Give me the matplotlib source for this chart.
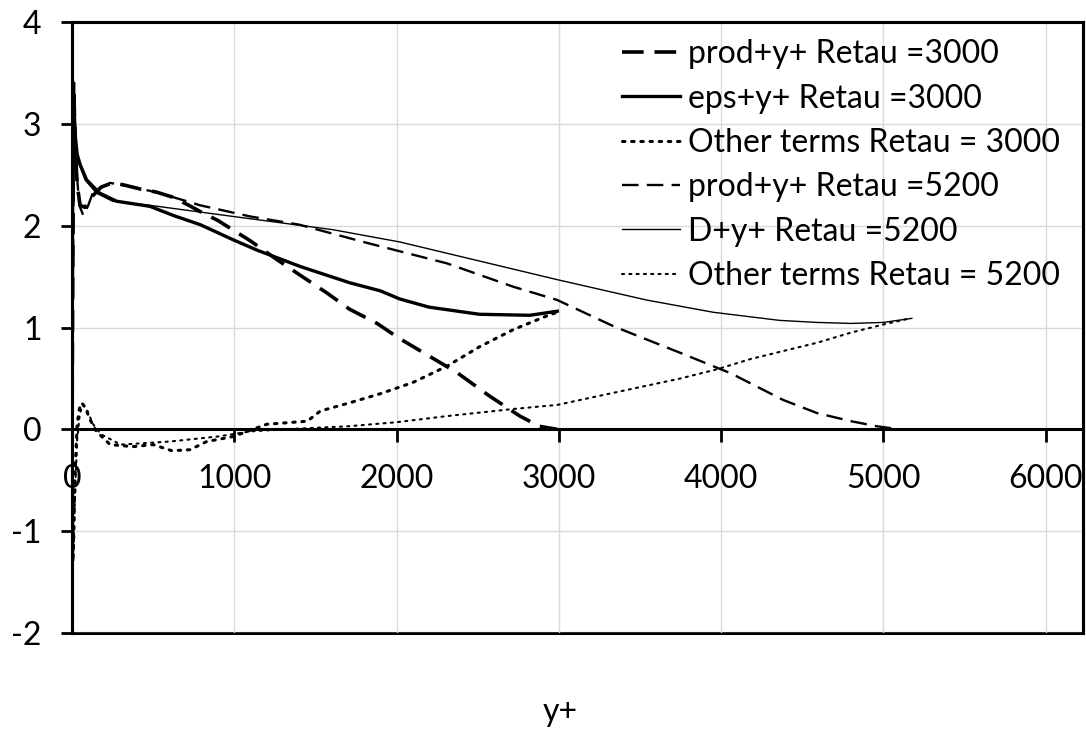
import numpy as np
import matplotlib.pyplot as plt

plt.rcParams['font.family'] = ['Lato', 'DejaVu Sans']
plt.rcParams['axes.unicode_minus'] = False

# Retau = 3000
yp_prod3 = [0, 5, 10, 15, 22, 32, 50, 80, 120, 180, 250, 320, 420, 520, 620, 720, 800,
            900, 990, 1100, 1260, 1400, 1570, 1710, 1880, 2010, 2200, 2370, 2570, 2760, 2880, 2990]
prod3 = [0, 1.6, 3.4, 3.1, 2.7, 2.4, 2.2, 2.18, 2.28, 2.38, 2.42, 2.4, 2.36, 2.33, 2.28, 2.2, 2.13,
         2.05, 1.96, 1.85, 1.67, 1.52, 1.34, 1.18, 1.04, 0.9, 0.72, 0.56, 0.33, 0.13, 0.03, 0.0]

yp_eps3 = [0, 3, 8, 14, 22, 32, 50, 90, 170, 275, 480, 625, 790, 995, 1140, 1405, 1710,
           1900, 2020, 2200, 2510, 2820, 2990]
eps3 = [0, 2.0, 3.35, 3.1, 2.85, 2.7, 2.6, 2.45, 2.32, 2.24, 2.19, 2.1, 2.01, 1.86, 1.76, 1.6, 1.44,
        1.36, 1.28, 1.2, 1.13, 1.12, 1.16]

yp_oth3 = [0, 3, 6, 10, 15, 22, 32, 45, 60, 80, 110, 150, 235, 375, 500, 615, 727, 830, 995,
           1200, 1450, 1530, 1710, 1900, 2100, 2310, 2510, 2720, 2920, 2990]
oth3 = [0, -0.6, -1.3, -1.1, -0.7, -0.3, 0.05, 0.2, 0.26, 0.22, 0.1, -0.02, -0.15, -0.17, -0.15,
        -0.21, -0.2, -0.12, -0.07, 0.05, 0.08, 0.18, 0.26, 0.35, 0.46, 0.62, 0.81, 0.98, 1.11, 1.15]

# Retau = 5200
yp_prod5 = [0, 6, 12, 20, 30, 45, 70, 100, 130, 235, 375, 540, 790, 1100, 1400, 1820, 2310,
            2720, 2990, 3340, 3750, 4060, 4380, 4590, 4800, 4960, 5100, 5200]
prod5 = [0, 1.5, 3.2, 2.9, 2.5, 2.2, 2.1, 2.2, 2.33, 2.42, 2.38, 2.32, 2.2, 2.09, 2.01, 1.83, 1.63,
         1.4, 1.27, 1.01, 0.75, 0.55, 0.29, 0.16, 0.08, 0.03, 0.0, 0.0]

yp_D5 = [0, 4, 10, 18, 28, 45, 80, 150, 250, 480, 995, 1610, 2020, 2990, 3540, 3950, 4360,
         4590, 4800, 5000, 5175]
D5 = [0, 2.2, 3.3, 3.0, 2.75, 2.6, 2.45, 2.32, 2.24, 2.2, 2.09, 1.96, 1.84, 1.47, 1.27, 1.15, 1.07,
      1.05, 1.04, 1.05, 1.09]

yp_oth5 = [0, 4, 8, 14, 22, 32, 48, 65, 90, 130, 180, 300, 600, 900, 1100, 1300, 1700, 2000,
           2310, 2720, 2990, 3340, 3750, 3975, 4180, 4590, 4800, 5000, 5165]
oth5 = [0, -0.5, -1.2, -0.9, -0.5, -0.1, 0.15, 0.24, 0.2, 0.05, -0.05, -0.15, -0.12, -0.07, -0.02,
        0.0, 0.03, 0.07, 0.13, 0.2, 0.24, 0.36, 0.5, 0.59, 0.69, 0.85, 0.95, 1.03, 1.09]

rect = [0.0663, 0.1376, 0.931, 0.8324]
fig = plt.figure(figsize=(10.86, 7.34), dpi=100)

# outer box (bottom edge at y = -2)
frame = fig.add_axes(rect, zorder=0)
frame.set_xticks([])
frame.set_yticks([])
for s in frame.spines.values():
    s.set_linewidth(2.2)

ax = fig.add_axes(rect, zorder=1)
ax.patch.set_alpha(0)

ax.plot(yp_prod3, prod3, color='black', lw=2.6, ls=(0, (6, 3)), label='prod+y+ Retau =3000')
ax.plot(yp_eps3, eps3, color='black', lw=2.4, ls='-', label='eps+y+ Retau =3000')
ax.plot(yp_oth3, oth3, color='black', lw=2.2, ls=(0, (0.8, 2.2)), dash_capstyle='round',
        label='Other terms Retau = 3000')
ax.plot(yp_prod5, prod5, color='black', lw=1.7, ls=(0, (7, 3.5)), label='prod+y+ Retau =5200')
ax.plot(yp_D5, D5, color='black', lw=1.0, ls='-', label='D+y+ Retau =5200')
ax.plot(yp_oth5, oth5, color='black', lw=1.5, ls=(0, (1, 2.5)), dash_capstyle='round',
        label='Other terms Retau = 5200')

ax.set_xlim(0, 6230)
ax.set_ylim(-2, 4)
ax.set_xticks(np.arange(0, 7000, 1000))
ax.set_yticks(np.arange(-2, 5, 1))
ax.grid(True, color='#d9d9d9', lw=1.0)
ax.set_axisbelow(True)

# x axis crosses at y = 0
ax.spines['bottom'].set_position(('data', 0))
for s in ax.spines.values():
    s.set_linewidth(2.2)
ax.tick_params(axis='y', direction='out', length=8, width=2.0, labelsize=23, pad=14)
ax.tick_params(axis='x', direction='out', length=9, width=2.0, labelsize=23, pad=16)

ax.legend(loc='upper left', bbox_to_anchor=(0.544, 0.972), frameon=False, fontsize=23,
          handlelength=1.8, handletextpad=0.25, labelspacing=0.45, borderaxespad=0,
          borderpad=0)

fig.text(560 / 1086, 1 - 712 / 734, 'y+', ha='center', va='center', fontsize=23)

fig.savefig('out.png', dpi=100)
